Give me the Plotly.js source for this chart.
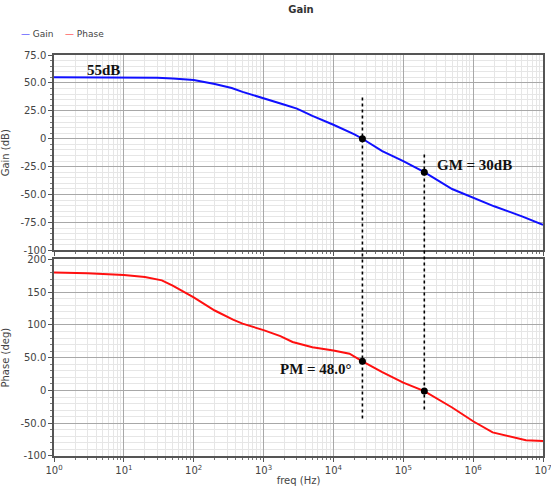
<!DOCTYPE html>
<html>
<head>
<meta charset="utf-8">
<script src="https://cdn.plot.ly/plotly-3.0.1.min.js"></script>
<style>html,body{margin:0;padding:0;background:#fff;}</style>
</head>
<body>
<div id="chart" style="width:551px;height:486px;"></div>
<script>
const gainFreq = [1, 3, 10, 20, 30, 50, 100, 200, 350, 500, 1000, 2000, 3000, 5000, 1e4, 2e4, 2.6e4, 5e4, 1e5, 2e5, 5e5, 1e6, 2e6, 5e6, 1e7];
const gainDb   = [55, 55, 54.9, 54.8, 54.6, 54, 52.7, 49, 45.5, 42, 36.5, 30.5, 27, 20.5, 12.5, 4, 0, -11, -20, -30, -45, -53, -60.5, -69.5, -77];
const phaseFreq = [1, 3, 10, 20, 35, 50, 100, 200, 365, 500, 1000, 1740, 2600, 5000, 1e4, 1.7e4, 2.6e4, 5e4, 1e5, 2e5, 5e5, 1e6, 1.9e6, 3.7e6, 5.7e6, 1e7];
const phaseDeg  = [180, 179, 176, 173, 168, 160, 142, 122, 108, 102, 92, 83, 74, 66, 61, 56, 44.5, 28, 12, -1, -26, -47, -64, -71, -76, -77];

const markFreq = [2.6e4, 2e5];
const markGain = [0, -30];
const markPhase = [44.5, -1];

const seriesNames = ['Gain', 'Phase'];
const seriesColors = ['#1010ff', '#ff1010'];

const xTickVals = [1, 10, 100, 1e3, 1e4, 1e5, 1e6, 1e7];
const xTickText = ['10<sup>0</sup>','10<sup>1</sup>','10<sup>2</sup>','10<sup>3</sup>','10<sup>4</sup>','10<sup>5</sup>','10<sup>6</sup>','10<sup>7</sup>'];
const gainTickVals = [75, 50, 25, 0, -25, -50, -75, -100];
const gainTickText = ['75.0','50.0','25.0','0','-25.0','-50.0','-75.0','-100'];
const phaseTickVals = [200, 150, 100, 50, 0, -50, -100];
const phaseTickText = ['200','150','100','50.0','0','-50.0','-100'];

const tickFont = {family: 'DejaVu Sans', size: 10, color: '#444'};
const serifBold = {family: 'Liberation Serif', size: 15, color: '#111'};
const smallFont = {family: 'DejaVu Sans', size: 9, color: '#444'};

const traces = [
  {x: gainFreq, y: gainDb, name: seriesNames[0], type: 'scatter', mode: 'lines',
   line: {color: seriesColors[0], width: 2}, xaxis: 'x2', yaxis: 'y2'},
  {x: phaseFreq, y: phaseDeg, name: seriesNames[1], type: 'scatter', mode: 'lines',
   line: {color: seriesColors[1], width: 2}, xaxis: 'x', yaxis: 'y'},
  {x: markFreq, y: markGain, type: 'scatter', mode: 'markers', showlegend: false,
   marker: {color: '#000', size: 7}, xaxis: 'x2', yaxis: 'y2'},
  {x: markFreq, y: markPhase, type: 'scatter', mode: 'markers', showlegend: false,
   marker: {color: '#000', size: 7}, xaxis: 'x', yaxis: 'y'}
];

const commonX = {
  type: 'log', range: [0, 7], tickvals: xTickVals, ticktext: xTickText,
  showgrid: true, gridcolor: '#a8a8a8', gridwidth: 1,
  showline: true, mirror: true, linecolor: '#555', linewidth: 1.5,
  ticks: 'outside', ticklen: 4, tickcolor: '#555',
  minor: {dtick: 'D1', showgrid: true, gridcolor: '#e6e6e6', ticks: 'outside', ticklen: 2, tickcolor: '#777'},
  tickfont: tickFont, zeroline: false, ticklabeloverflow: 'allow'
};

// legend drawn as annotations (short line glyph + label), like the reference
const legendAnnots = seriesNames.map((n, i) => ({
  text: '<span style="color:' + seriesColors[i] + '">—</span> ' + n,
  xref: 'paper', yref: 'paper', x: [-0.071, 0.018][i], y: 1.052, xanchor: 'left', yanchor: 'middle',
  showarrow: false, font: smallFont
}));

const layout = {
  width: 551, height: 486,
  margin: {l: 53.5, r: 7.5, t: 54.7, b: 29.5},
  paper_bgcolor: '#fff', plot_bgcolor: '#fff',
  title: {text: '<b>Gain</b>', x: 0.505, xref: 'paper', xanchor: 'center', y: 0.988, yanchor: 'top',
          font: {family: 'DejaVu Sans', size: 10, color: '#333'}},
  showlegend: false,
  xaxis: Object.assign({}, commonX, {anchor: 'y',
          title: {text: 'freq (Hz)', font: {family: 'DejaVu Sans', size: 10, color: '#444'}, standoff: 2}}),
  xaxis2: Object.assign({}, commonX, {anchor: 'y2', matches: 'x', showticklabels: false}),
  yaxis: {domain: [0, 0.4903], range: [-100, 200], tickvals: phaseTickVals, ticktext: phaseTickText,
          showgrid: true, gridcolor: '#a8a8a8', showline: true, mirror: true, linecolor: '#555', linewidth: 1.5,
          ticks: 'outside', ticklen: 4, tickcolor: '#555',
          minor: {dtick: 10, showgrid: true, gridcolor: '#e6e6e6', ticks: 'outside', ticklen: 2, tickcolor: '#777'},
          tickfont: tickFont, zeroline: false,
          title: {text: 'Phase (deg)', font: {family: 'DejaVu Sans', size: 10, color: '#444'}, standoff: 9}},
  yaxis2: {domain: [0.5127, 1], range: [-100, 75], tickvals: gainTickVals, ticktext: gainTickText,
          showgrid: true, gridcolor: '#a8a8a8', showline: true, mirror: true, linecolor: '#555', linewidth: 1.5,
          ticks: 'outside', ticklen: 4, tickcolor: '#555',
          minor: {dtick: 5, showgrid: true, gridcolor: '#e6e6e6', ticks: 'outside', ticklen: 2, tickcolor: '#777'},
          tickfont: tickFont, zeroline: false,
          title: {text: 'Gain (dB)', font: {family: 'DejaVu Sans', size: 10, color: '#444'}, standoff: 14}},
  shapes: [
    {type: 'line', xref: 'x', yref: 'paper', x0: markFreq[0], x1: markFreq[0], y0: 0.0933, y1: 0.8997,
     line: {color: '#000', width: 1.6, dash: 'dot'}},
    {type: 'line', xref: 'x', yref: 'paper', x0: markFreq[1], x1: markFreq[1], y0: 0.1157, y1: 0.7553,
     line: {color: '#000', width: 1.6, dash: 'dot'}}
  ],
  annotations: legendAnnots.concat([
    {text: '<b>55dB</b>', xref: 'x2', yref: 'y2', x: 0.714, y: 62, showarrow: false, font: serifBold},
    {text: '<b>GM = 30dB</b>', xref: 'x2', yref: 'y2', x: 6.02, y: -23.5, showarrow: false, font: serifBold},
    {text: '<b>PM = 48.0°</b>', xref: 'x', yref: 'y', x: 3.757, y: 32, showarrow: false, font: serifBold}
  ])
};

Plotly.newPlot('chart', traces, layout, {displayModeBar: false, responsive: false});
</script>
</body>
</html>
